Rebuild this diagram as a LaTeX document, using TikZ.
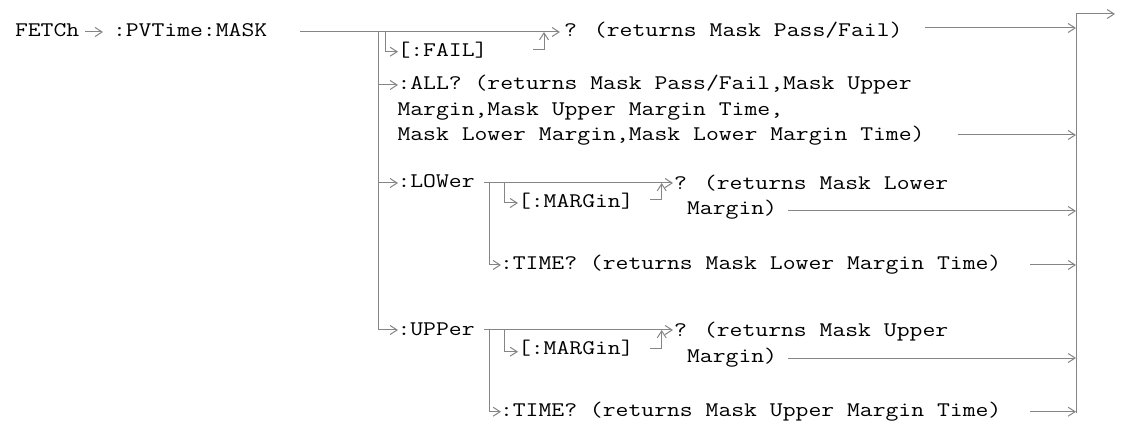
\documentclass[tikz,border=0pt]{standalone}
\usepackage{fontspec}
\newfontfamily\cour{Latin Modern Mono}[FakeStretch=1.2]
\usetikzlibrary{arrows.meta}
\definecolor{linegray}{HTML}{858585}
\tikzset{
  lbl/.style={anchor=base west, inner sep=0pt, outer sep=0pt,
    font=\cour\fontsize{20.8}{25}\selectfont, text=black},
  conn/.style={draw=linegray, line width=1pt},
  arr/.style={conn, -{Straight Barb[length=7pt,width=9pt,line width=1pt]}},
}
\begin{document}
\begin{tikzpicture}[x=1pt,y=-1pt]
\useasboundingbox (0,0) rectangle (1121,427);
% text nodes
\node[lbl] (fetch) at (15,37) {FETCh};
\node[lbl] (pvt) at (113,37) {:PVTime:MASK};
\node[lbl] (pf) at (564,37) {? (returns Mask Pass/Fail)};
\node[lbl] (fail) at (397.5,56.5) {[:FAIL]};
\node[lbl] (all1) at (397.5,90) {:ALL? (returns Mask Pass/Fail,Mask Upper};
\node[lbl] (all2) at (397.5,115.5) {Margin,Mask Upper Margin Time,};
\node[lbl] (all3) at (397.5,141) {Mask Lower Margin,Mask Lower Margin Time)};
\node[lbl] (low) at (397.5,188) {:LOWer};
\node[lbl] (lmarg) at (518,208) {[:MARGin]};
\node[lbl] (lq1) at (674,189.5) {? (returns Mask Lower};
\node[lbl] (lq2) at (687.1,215) {Margin)};
\node[lbl] (ltime) at (500,270) {:TIME? (returns Mask Lower Margin Time)};
\node[lbl] (upp) at (397.5,335) {:UPPer};
\node[lbl] (umarg) at (518,355) {[:MARGin]};
\node[lbl] (uq1) at (674,336.5) {? (returns Mask Upper};
\node[lbl] (uq2) at (687.1,362) {Margin)};
\node[lbl] (utime) at (500,416.7) {:TIME? (returns Mask Upper Margin Time)};
% junction coordinates
\coordinate (f1) at (85,32);   \coordinate (f2) at (103,32);
\coordinate (m0) at (300,32);  \coordinate (mv) at (378,32);
\coordinate (mend) at (560,32);
\coordinate (fv) at (385,32);  \coordinate (fb) at (385,51.7); \coordinate (fe) at (398,51.7);
\coordinate (fu0) at (533,50); \coordinate (fu1) at (544,50); \coordinate (fu2) at (544,32);
\coordinate (av) at (378,85);  \coordinate (ae) at (398,85);
\coordinate (lv) at (378,183); \coordinate (le) at (398,183);
\coordinate (uv) at (378,330); \coordinate (ue) at (398,330);
\coordinate (r0) at (1076,14); \coordinate (r1) at (1076,413); \coordinate (rend) at (1115,14);
\coordinate (pfa) at (925,28); \coordinate (pfb) at (1076,28);
\coordinate (ala) at (958,135); \coordinate (alb) at (1076,135);
% lower block
\coordinate (l0) at (484,183); \coordinate (l1) at (673,183);
\coordinate (lt0) at (489,183); \coordinate (lt1) at (489,265); \coordinate (lt2) at (501,265);
\coordinate (lm0) at (504,183); \coordinate (lm1) at (504,203); \coordinate (lm2) at (518,203);
\coordinate (lu0) at (650,200); \coordinate (lu1) at (661.7,200); \coordinate (lu2) at (661.7,183);
\coordinate (lqa) at (788,211); \coordinate (lqb) at (1076,211);
\coordinate (lta) at (1030,265); \coordinate (ltb) at (1076,265);
% upper block
\coordinate (u0) at (484,330); \coordinate (u1) at (673,330);
\coordinate (ut0) at (489,330); \coordinate (ut1) at (489,411.7); \coordinate (ut2) at (501,411.7);
\coordinate (um0) at (504,330); \coordinate (um1) at (504,351.7); \coordinate (um2) at (518,351.7);
\coordinate (uu0) at (650,348); \coordinate (uu1) at (661.7,348); \coordinate (uu2) at (661.7,330);
\coordinate (uqa) at (788,358); \coordinate (uqb) at (1076,358);
\coordinate (uta) at (1030,411.7); \coordinate (utb) at (1076,411.7);
% connectors
\draw[arr] (f1) -- (f2);
\draw[arr] (m0) -- (mend);
\draw[conn] (mv) -- (uv);
\draw[arr] (fv) -- (fb) -- (fe);
\draw[arr] (fu0) -- (fu1) -- (fu2);
\draw[arr] (av) -- (ae);
\draw[arr] (lv) -- (le);
\draw[arr] (uv) -- (ue);
\draw[arr] (pfa) -- (pfb);
\draw[arr] (ala) -- (alb);
\draw[conn] (r0) -- (r1);
\draw[arr] (r0) -- (rend);
\draw[arr] (l0) -- (l1);
\draw[arr] (lt0) -- (lt1) -- (lt2);
\draw[arr] (lm0) -- (lm1) -- (lm2);
\draw[arr] (lu0) -- (lu1) -- (lu2);
\draw[arr] (lqa) -- (lqb);
\draw[arr] (lta) -- (ltb);
\draw[arr] (u0) -- (u1);
\draw[arr] (ut0) -- (ut1) -- (ut2);
\draw[arr] (um0) -- (um1) -- (um2);
\draw[arr] (uu0) -- (uu1) -- (uu2);
\draw[arr] (uqa) -- (uqb);
\draw[arr] (uta) -- (utb);
\end{tikzpicture}
\end{document}
